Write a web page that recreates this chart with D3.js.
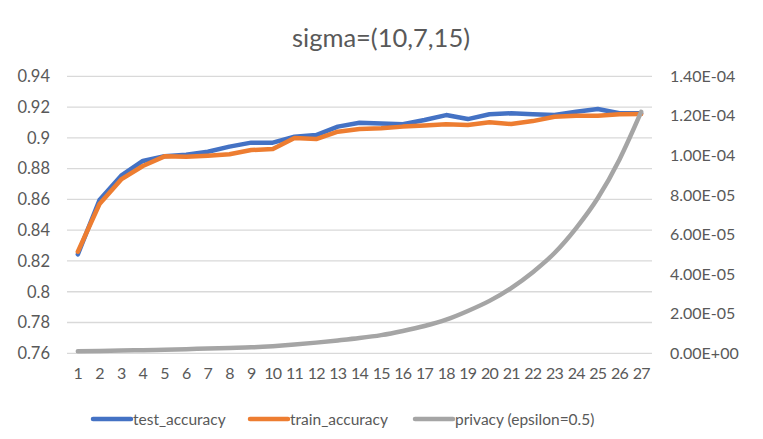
<!DOCTYPE html>
<html><head><meta charset="utf-8">
<script src="https://cdn.jsdelivr.net/npm/d3@7"></script>
<style>body{margin:0;background:#fff}text{font-family:Lato,"Open Sans",sans-serif;fill:#595959}</style>
</head><body><svg id="c" width="763" height="439"></svg>
<script>
const categories = d3.range(1, 28).map(String);
const testAccuracy = [0.8243,0.8596,0.8754,0.8850,0.8880,0.8890,0.8910,0.8943,0.8969,0.8969,0.9007,0.9018,0.9073,0.9098,0.9094,0.9088,0.9116,0.9148,0.9122,0.9153,0.9160,0.9153,0.9148,0.9170,0.9187,0.9160,0.9160];
const trainAccuracy = [0.8260,0.8570,0.8730,0.8817,0.8880,0.8877,0.8884,0.8893,0.8921,0.8927,0.8999,0.8992,0.9040,0.9057,0.9062,0.9073,0.9080,0.9088,0.9083,0.9101,0.9090,0.9109,0.9137,0.9144,0.9144,0.9153,0.9155];
const privacy = [1.0e-6,1.2e-6,1.4e-6,1.6e-6,1.8e-6,2.1e-6,2.4e-6,2.7e-6,3.0e-6,3.6e-6,4.4e-6,5.4e-6,6.5e-6,7.7e-6,9.2e-6,1.13e-5,1.38e-5,1.70e-5,2.14e-5,2.65e-5,3.30e-5,4.10e-5,5.07e-5,6.33e-5,7.85e-5,9.80e-5,1.22e-4];
const leftTicks = [0.76,0.78,0.8,0.82,0.84,0.86,0.88,0.9,0.92,0.94];
const rightTicks = [0,2e-5,4e-5,6e-5,8e-5,1e-4,1.2e-4,1.4e-4];
const seriesNames = ["test_accuracy","train_accuracy","privacy (epsilon=0.5)"];
const colors = ["#4472C4","#ED7D31","#A5A5A5"];
const title = "sigma=(10,7,15)";

const svg = d3.select("#c");
const L = 67, R = 652, T = 76.3, B = 353.3;
const x = d3.scaleBand().domain(categories).range([L, R]);
const yL = d3.scaleLinear().domain([0.76, 0.94]).range([B, T]);
const yR = d3.scaleLinear().domain([0, 1.4e-4]).range([B, T]);
const cx = d => x(d) + x.bandwidth() / 2;

svg.append("text").attr("x", 381).attr("y", 47).attr("text-anchor", "middle")
  .style("font-size", "25.5px").text(title);

// gridlines
svg.append("g").selectAll("line").data(leftTicks).join("line")
  .attr("x1", L).attr("x2", R).attr("y1", d => yL(d)).attr("y2", d => yL(d))
  .attr("stroke", "#d9d9d9").attr("stroke-width", 1.3);

// left axis
const gl = svg.append("g").attr("transform", `translate(${L},0)`)
  .call(d3.axisLeft(yL).tickValues(leftTicks).tickSize(0).tickPadding(17).tickFormat(d => String(+d.toFixed(2))));
gl.select(".domain").remove();
gl.selectAll("text").style("font-size", "16.5px").style("fill", "#595959");

// right axis
const gr = svg.append("g").attr("transform", `translate(${R},0)`)
  .call(d3.axisRight(yR).tickValues(rightTicks).tickSize(0).tickPadding(18)
    .tickFormat(d => { const s = d.toExponential(2).toUpperCase(); const m = s.match(/^(.*)E([+-])(\d+)$/); return m[1] + "E" + m[2] + m[3].padStart(2, "0"); }));
gr.select(".domain").remove();
gr.selectAll("text").style("font-size", "16px").style("fill", "#595959");

// x axis
const gx = svg.append("g").attr("transform", `translate(0,${B})`)
  .call(d3.axisBottom(x).tickSize(0).tickPadding(14));
gx.select(".domain").remove();
gx.selectAll("text").style("font-size", "16px").style("fill", "#595959").style("letter-spacing", "-0.8px");

const lineL = d3.line().x((d, i) => cx(categories[i])).y(d => yL(d));
const lineR = d3.line().x((d, i) => cx(categories[i])).y(d => yR(d)).curve(d3.curveMonotoneX);

svg.append("path").datum(testAccuracy).attr("d", lineL).attr("fill", "none")
  .attr("stroke", colors[0]).attr("stroke-width", 4.5).attr("stroke-linejoin", "round").attr("stroke-linecap", "round");
svg.append("path").datum(trainAccuracy).attr("d", lineL).attr("fill", "none")
  .attr("stroke", colors[1]).attr("stroke-width", 4.5).attr("stroke-linejoin", "round").attr("stroke-linecap", "round");
svg.append("path").datum(privacy).attr("d", lineR).attr("fill", "none")
  .attr("stroke", colors[2]).attr("stroke-width", 4.5).attr("stroke-linejoin", "round").attr("stroke-linecap", "round");

// legend
const legX = [93, 250, 415];
const lg = svg.append("g");
seriesNames.forEach((n, i) => {
  lg.append("line").attr("x1", legX[i]).attr("x2", legX[i] + 38).attr("y1", 419).attr("y2", 419)
    .attr("stroke", colors[i]).attr("stroke-width", 4.5).attr("stroke-linecap", "round");
  lg.append("text").attr("x", legX[i] + 40).attr("y", 424.5).style("font-size", "15.5px").text(n);
});
</script></body></html>
